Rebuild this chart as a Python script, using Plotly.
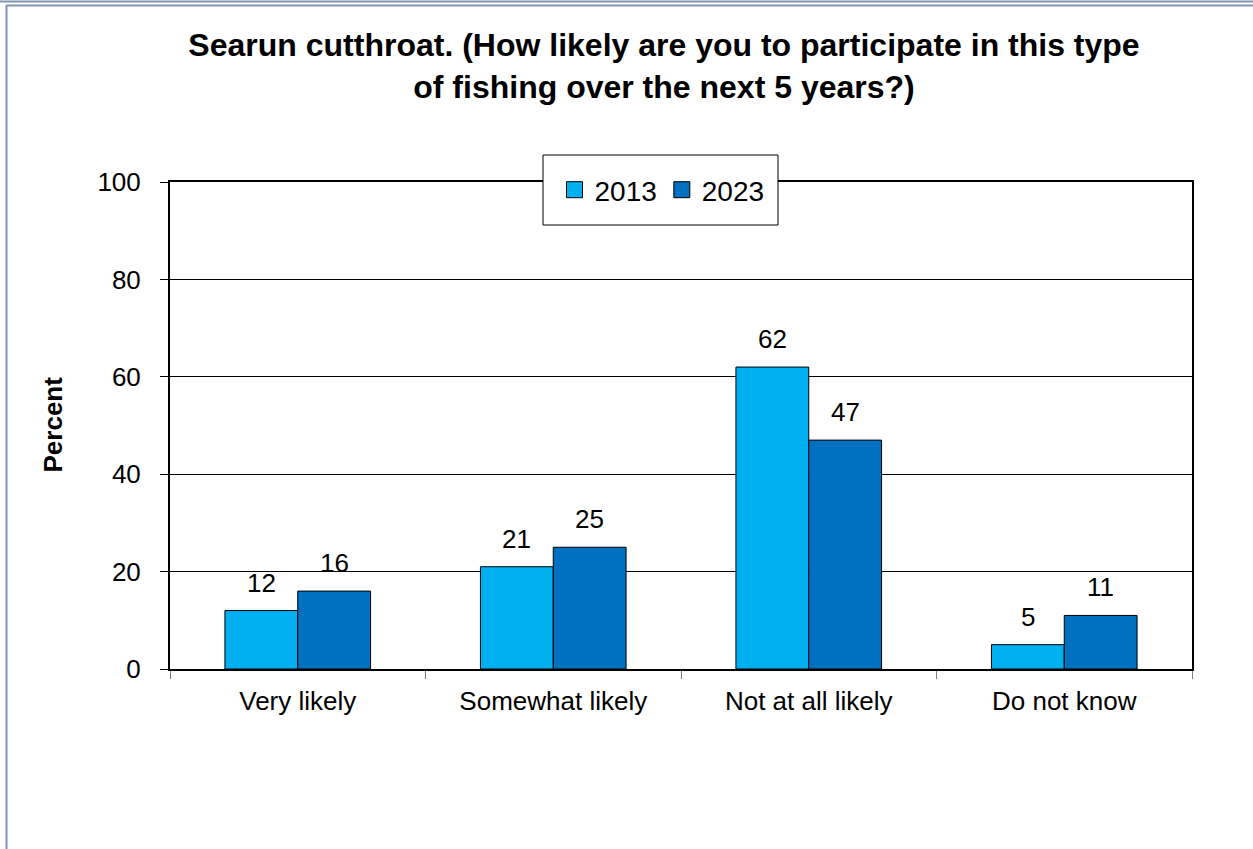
import plotly.graph_objects as go

categories = ["Very likely", "Somewhat likely", "Not at all likely", "Do not know"]
series_names = ["2013", "2023"]
values_2013 = [12, 21, 62, 5]
values_2023 = [16, 25, 47, 11]
colors = ["#00B0F0", "#0070C0"]
y_ticks = [0, 20, 40, 60, 80, 100]

W, H = 1253, 849
L, R, T, B = 170, 61, 182, 180
pw, ph = W - L - R, H - T - B
BARGAP = 0.43
BAR_W = (1 - BARGAP) / 2

def px_x(p):
    return (p - L) / pw

def px_y(p):
    return (H - B - p) / ph

fig = go.Figure()
all_vals = [values_2013, values_2023]
annotations = []
for k, (name, vals, col) in enumerate(zip(series_names, all_vals, colors)):
    fig.add_trace(go.Bar(
        x=categories, y=vals, name=name, showlegend=False,
        marker=dict(color=col, line=dict(color="black", width=1)),
    ))
    # legend entry (square marker)
    fig.add_trace(go.Scatter(
        x=[None], y=[None], mode="markers", name=name,
        marker=dict(symbol="square", size=16, color=col,
                    line=dict(color="black", width=1)),
    ))
    off = (k - 0.5) * BAR_W
    for i, v in enumerate(vals):
        annotations.append(dict(
            x=i + off, y=v, xref="x", yref="y", text=str(v),
            showarrow=False, yanchor="bottom", xanchor="center", yshift=11,
            font=dict(family="Arial", size=26, color="black"),
        ))

annotations.append(dict(
    text="<b>Percent</b>", textangle=-90, xref="paper", yref="paper",
    x=px_x(52.5), y=px_y(425), xanchor="center", yanchor="middle",
    showarrow=False, font=dict(family="Arial", size=26, color="black"),
))

border = "#7F96B5"
shapes = [
    dict(type="rect", xref="paper", yref="paper",
         x0=px_x(543), x1=px_x(778), y0=px_y(225), y1=px_y(155),
         fillcolor="white", line=dict(color="black", width=1), layer="above"),
    dict(type="line", xref="paper", yref="paper",
         x0=px_x(0), x1=px_x(W), y0=px_y(1.5), y1=px_y(1.5),
         line=dict(color=border, width=2)),
    dict(type="line", xref="paper", yref="paper",
         x0=px_x(6), x1=px_x(W), y0=px_y(5.5), y1=px_y(5.5),
         line=dict(color=border, width=2)),
    dict(type="line", xref="paper", yref="paper",
         x0=px_x(6.5), x1=px_x(6.5), y0=px_y(5), y1=px_y(H),
         line=dict(color=border, width=2)),
]

fig.update_layout(
    width=W, height=H,
    margin=dict(l=L, r=R, t=T, b=B),
    paper_bgcolor="white", plot_bgcolor="white",
    barmode="group", bargap=BARGAP, bargroupgap=0,
    font=dict(family="Arial", size=26, color="black"),
    title=dict(
        text="<b>Searun cutthroat. (How likely are you to participate in this type<br>of fishing over the next 5 years?)</b>",
        x=664 / W, xanchor="center", y=1 - 56 / H, yanchor="top",
        font=dict(family="Arial", size=32, color="black"),
    ),
    showlegend=True,
    legend=dict(
        orientation="h", x=px_x(662), y=px_y(190), xanchor="center", yanchor="middle",
        bgcolor="rgba(0,0,0,0)", borderwidth=0,
        font=dict(family="Arial", size=28, color="black"),
        itemwidth=30,
    ),
    shapes=shapes,
    annotations=annotations,
)

fig.update_yaxes(
    range=[0, 100], tickvals=y_ticks, ticktext=[str(v) for v in y_ticks],
    showgrid=True, gridcolor="black", gridwidth=1,
    showline=True, linecolor="black", linewidth=2, mirror=True,
    ticks="outside", ticklen=8, tickcolor="black", tickwidth=1,
    tickfont=dict(family="Arial", size=26), zeroline=False,
    ticklabelstandoff=14,
)
fig.update_xaxes(
    range=[-0.5, 3.5],
    showline=True, linecolor="black", linewidth=2, mirror=True,
    ticks="outside", tickson="boundaries", ticklen=8, tickcolor="#808080", tickwidth=1,
    tickfont=dict(family="Arial", size=26),
    ticklabelstandoff=8,
)

fig.write_html("out.html", config={"displayModeBar": False},
               post_script="document.body.style.margin='0';")
